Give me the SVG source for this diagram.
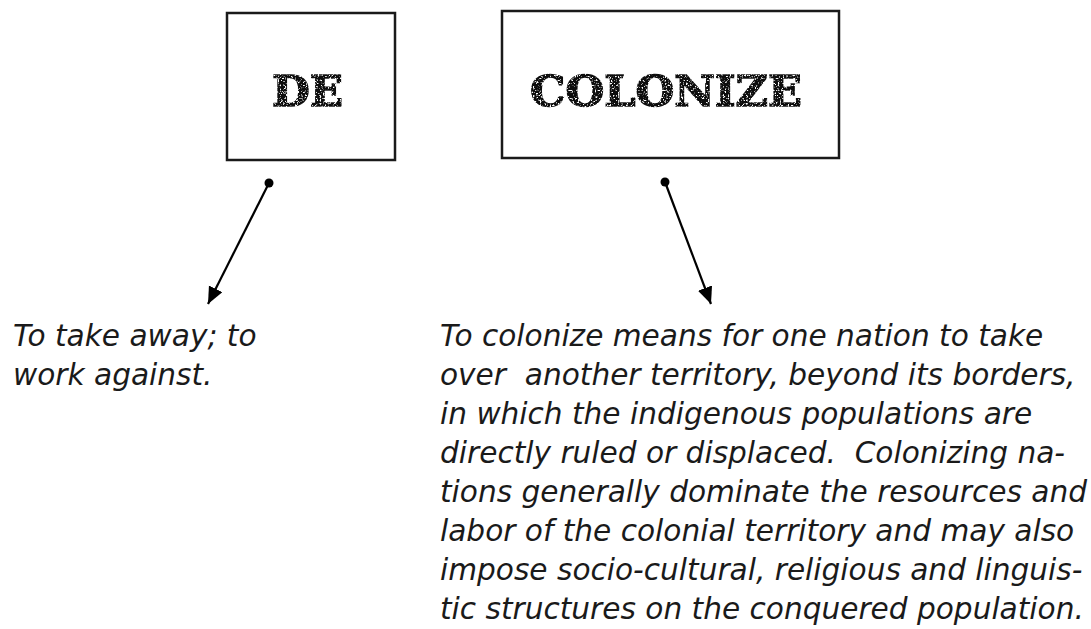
<svg xmlns="http://www.w3.org/2000/svg" width="1091" height="629" viewBox="0 0 1091 629">
  <style>
    .box { fill: #ffffff; stroke: #1a1a1a; stroke-width: 2.5; }
    .title { font-family: "DejaVu Serif", "Liberation Serif", serif; font-weight: bold; font-size: 42.5px; fill: #0a0a0a; stroke: #0a0a0a; stroke-width: 1.5; text-anchor: middle; filter: url(#grunge); }
    .def { font-family: "DejaVu Sans", "Liberation Sans", sans-serif; font-style: italic; font-size: 29.6px; fill: #1a1a1a; }
    .conn { stroke: #000; stroke-width: 2.2; fill: none; marker-end: url(#arrow); }
    .dot { fill: #000; }
  </style>
  <defs>
    <marker id="arrow" markerUnits="userSpaceOnUse" markerWidth="20" markerHeight="16" refX="17" refY="7.5" orient="auto">
      <path d="M0,0 L17,7.5 L0,15 Z" fill="#000"/>
    </marker>
    <filter id="grunge" x="-5%" y="-10%" width="110%" height="120%">
      <feTurbulence type="fractalNoise" baseFrequency="0.6" numOctaves="2" seed="7" result="noise"/>
      <feColorMatrix in="noise" type="matrix" values="0 0 0 0 0  0 0 0 0 0  0 0 0 0 0  0 0 0 6 -1.7" result="mask"/>
      <feComposite in="SourceGraphic" in2="mask" operator="in"/>
    </filter>
  </defs>
  <rect width="1091" height="629" fill="#ffffff"/>

  <g id="node-de">
    <rect class="box" x="227" y="13" width="168" height="147"/>
    <text class="title" x="307.5" y="106" textLength="71" lengthAdjust="spacingAndGlyphs">DE</text>
  </g>

  <g id="node-colonize">
    <rect class="box" x="502" y="11" width="337" height="147"/>
    <text class="title" x="666" y="106" textLength="272" lengthAdjust="spacingAndGlyphs">COLONIZE</text>
  </g>

  <g id="connectors">
    <line class="conn" x1="269" y1="183" x2="208" y2="304"/>
    <circle class="dot" cx="269" cy="183" r="4.5"/>
    <line class="conn" x1="665" y1="182" x2="711" y2="304"/>
    <circle class="dot" cx="665" cy="182" r="4.5"/>
  </g>

  <g id="def-de">
    <text class="def" x="13" y="346">To take away; to</text>
    <text class="def" x="13" y="385">work against.</text>
  </g>

  <g id="def-colonize">
    <text class="def" x="440" y="346">To colonize means for one nation to take</text>
    <text class="def" x="440" y="385" xml:space="preserve">over  another territory, beyond its borders,</text>
    <text class="def" x="440" y="424">in which the indigenous populations are</text>
    <text class="def" x="440" y="463" xml:space="preserve">directly ruled or displaced.  Colonizing na-</text>
    <text class="def" x="440" y="502">tions generally dominate the resources and</text>
    <text class="def" x="440" y="541">labor of the colonial territory and may also</text>
    <text class="def" x="440" y="580">impose socio-cultural, religious and linguis-</text>
    <text class="def" x="440" y="619">tic structures on the conquered population.</text>
  </g>
</svg>
